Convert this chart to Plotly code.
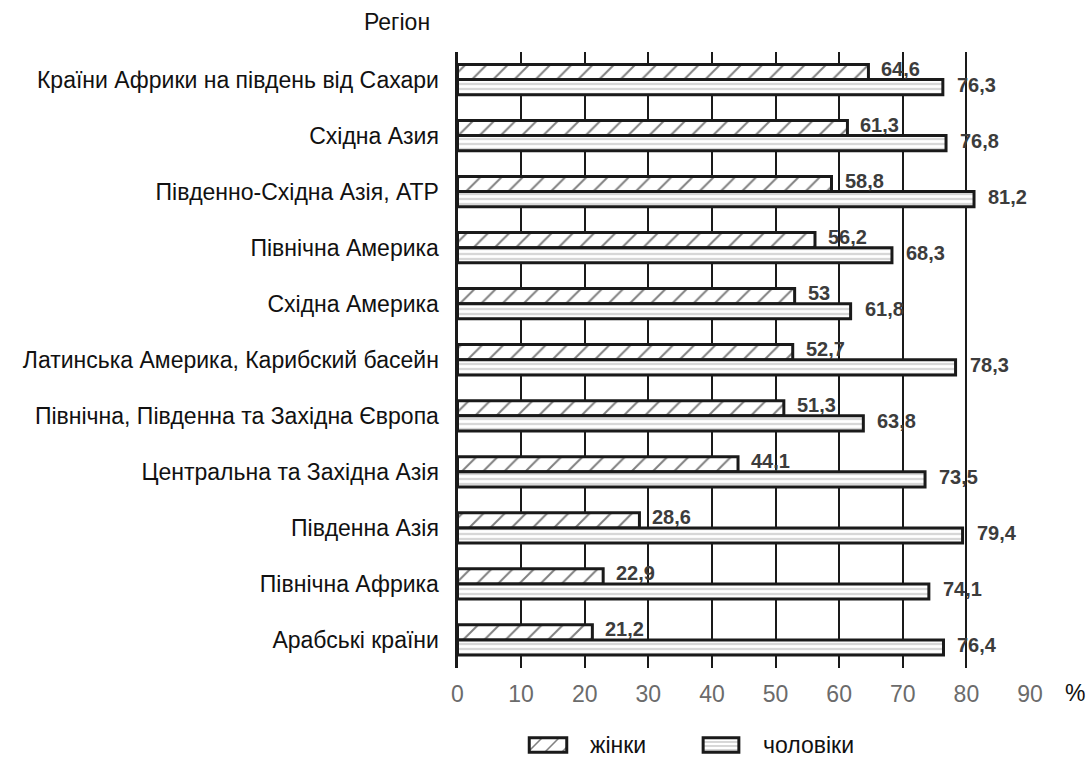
import plotly.graph_objects as go

regions = [
    "Країни Африки на південь від Сахари",
    "Східна Азия",
    "Південно-Східна Азія, АТР",
    "Північна Америка",
    "Східна Америка",
    "Латинська Америка, Карибский басейн",
    "Північна, Південна та Західна Європа",
    "Центральна та Західна Азія",
    "Південна Азія",
    "Північна Африка",
    "Арабські країни",
]
women = [64.6, 61.3, 58.8, 56.2, 53, 52.7, 51.3, 44.1, 28.6, 22.9, 21.2]
men = [76.3, 76.8, 81.2, 68.3, 61.8, 78.3, 63.8, 73.5, 79.4, 74.1, 76.4]
x_ticks = [0, 10, 20, 30, 40, 50, 60, 70, 80, 90]
series_names = ["жінки", "чоловіки"]

FONT = "Liberation Sans, Arial, sans-serif"
INK = "#1a1a1a"
W, H = 1089, 758

# plot frame in pixels (figure has zero margins, axes placed via domains)
PL, PR, PT, PB = 457.5, 1030, 51.5, 668


def px_x(v):
    return v / W


def px_y(v):
    return 1 - v / H


def fmt(v):
    return f"{v:g}".replace(".", ",")


women_marker = dict(color="white", line=dict(color=INK, width=3),
                    pattern=dict(shape="/", fgcolor="#000000", bgcolor="white",
                                 size=15, solidity=0.13))
men_marker = dict(color="white", line=dict(color=INK, width=3),
                  pattern=dict(shape="-", fgcolor="#7a7a7a", bgcolor="white",
                               size=5, solidity=0.28))

fig = go.Figure()
fig.add_trace(go.Bar(y=regions, x=women, orientation="h", name=series_names[0],
                     marker=women_marker, showlegend=False))
fig.add_trace(go.Bar(y=regions, x=men, orientation="h", name=series_names[1],
                     marker=men_marker, showlegend=False))

# legend swatches drawn as patterned bars on their own small axes
fig.add_trace(go.Bar(x=[1], y=[0], orientation="h", width=1,
                     marker=dict(women_marker, pattern=dict(shape="/", fgcolor="#000000",
                                                            bgcolor="white", size=12,
                                                            solidity=0.13)),
                     xaxis="x2", yaxis="y2", showlegend=False, hoverinfo="skip"))
fig.add_trace(go.Bar(x=[1], y=[0], orientation="h", width=1,
                     marker=dict(men_marker, pattern=dict(shape="-", fgcolor="#7a7a7a",
                                                          bgcolor="white", size=4,
                                                          solidity=0.3)),
                     xaxis="x3", yaxis="y3", showlegend=False, hoverinfo="skip"))

label_font = dict(family=FONT, size=20, color="#3c3c3c", weight="bold")
annotations = []
for r, w, m in zip(regions, women, men):
    annotations.append(dict(x=w, y=r, xref="x", yref="y", text=fmt(w),
                            showarrow=False, xanchor="left", yanchor="middle",
                            xshift=11, yshift=11, font=label_font))
    annotations.append(dict(x=m, y=r, xref="x", yref="y", text=fmt(m),
                            showarrow=False, xanchor="left", yanchor="middle",
                            xshift=12, yshift=-5, font=label_font))

text_font = dict(family=FONT, size=23, color="#111111")
annotations += [
    dict(x=px_x(397), y=px_y(22), text="Регіон", xanchor="center"),
    dict(x=px_x(1075), y=px_y(693), text="%", xanchor="center"),
    dict(x=px_x(588), y=px_y(745), text=series_names[0], xanchor="left"),
    dict(x=px_x(761), y=px_y(745), text=series_names[1], xanchor="left"),
]
for a in annotations[-4:]:
    a.update(xref="paper", yref="paper", showarrow=False, yanchor="middle",
             font=text_font)

# swatch axes leave a little room so the bar outline is not clipped
sw_x = dict(range=[-0.06, 1.06], visible=False, fixedrange=True)
sw_y = dict(range=[-0.62, 0.62], visible=False, fixedrange=True)
fig.update_layout(
    width=W, height=H,
    margin=dict(l=0, r=0, t=0, b=0, autoexpand=False),
    paper_bgcolor="white", plot_bgcolor="white",
    barmode="group", bargap=0.46, bargroupgap=0.0,
    font=dict(family=FONT, size=23, color="#111111"),
    annotations=annotations,
    showlegend=False,
    xaxis=dict(
        domain=[px_x(PL), px_x(PR)], range=[0, 90], tickvals=x_ticks,
        ticktext=[str(t) for t in x_ticks],
        showgrid=True, gridcolor=INK, gridwidth=2,
        zeroline=False, showline=False, ticks="", automargin=False,
        tickfont=dict(family=FONT, size=23, color="#6b6b6b"),
        ticklabelstandoff=10,
    ),
    yaxis=dict(
        domain=[px_y(PB), px_y(PT)], autorange="reversed",
        showgrid=False, zeroline=False, automargin=False,
        showline=True, linecolor=INK, linewidth=3, ticks="",
        tickfont=dict(family=FONT, size=23, color="#111111"),
        ticklabelstandoff=11,
    ),
    xaxis2=dict(sw_x, domain=[px_x(527), px_x(569)], anchor="y2"),
    yaxis2=dict(sw_y, domain=[px_y(754), px_y(736)], anchor="x2"),
    xaxis3=dict(sw_x, domain=[px_x(701), px_x(741)], anchor="y3"),
    yaxis3=dict(sw_y, domain=[px_y(754), px_y(736)], anchor="x3"),
)

fig.write_html("out.html")
